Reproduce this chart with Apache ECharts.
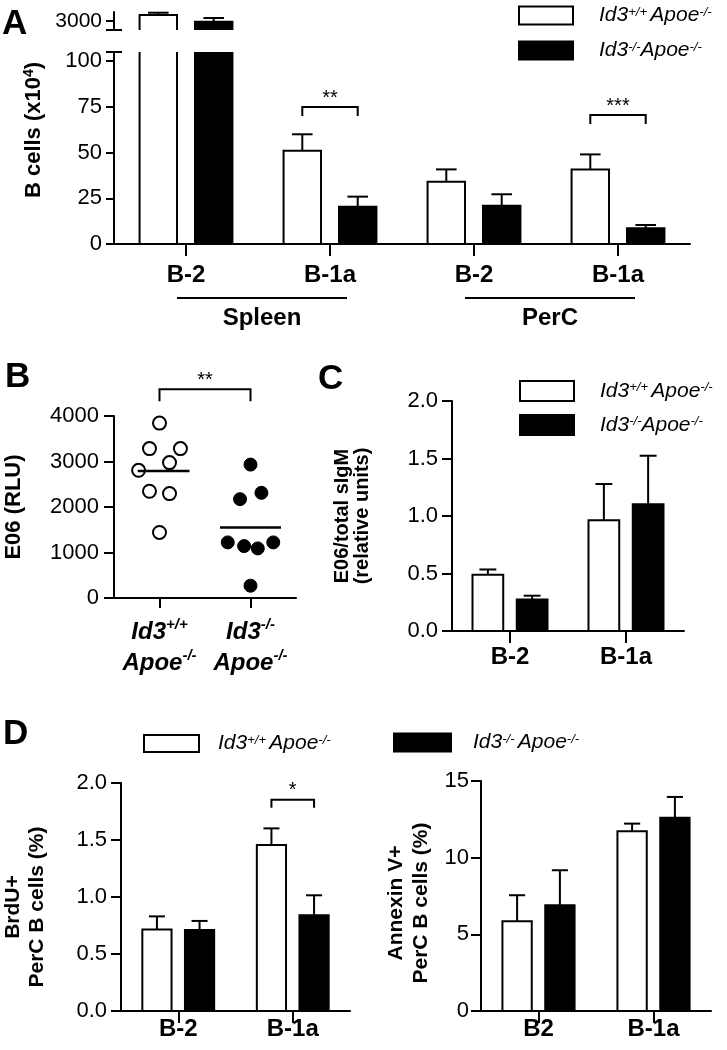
<!DOCTYPE html>
<html>
<head>
<meta charset="utf-8">
<title>Id3 Apoe B cells</title>
<script src="https://cdn.jsdelivr.net/npm/echarts@6/dist/echarts.min.js"></script>
<style>
  html, body { margin: 0; padding: 0; background: #fff; }
  #chart { width: 727px; height: 1050px; }
</style>
</head>
<body>
<div id="chart"></div>
<script>
// A: B cell numbers (x10^4), broken axis
const aCategories = ['B-2', 'B-1a', 'B-2', 'B-1a'];
const aGroups = ['Spleen', 'PerC'];
const aWt = [3067, 51, 34.1, 40.8];
const aWtSem = [25, 9, 6.7, 8.2];
const aKo = [2992, 20.4, 20.9, 8.6];
const aKoSem = [41, 5.5, 6.3, 1.8];
const aSig = [[1, 74.9], [3, 70.5]];
const aStars = ['**', '***'];

// B: E06 (RLU) per mouse
const bLabels = ['{b|Id3}{bs|+/+}\n{b|Apoe}{bs|-/-}', '{b|Id3}{bs|-/-}\n{b|Apoe}{bs|-/-}'];
const bWtX = [0.5, 0.39, 0.73, 0.61, 0.27, 0.39, 0.61, 0.5];
const bWtY = [3844, 3283, 3283, 2976, 2807, 2346, 2295, 1440];
const bKoX = [1.5, 1.62, 1.385, 1.25, 1.43, 1.58, 1.75, 1.5];
const bKoY = [2932, 2311, 2172, 1222, 1141, 1090, 1222, 270];
const bMeans = [2790, 1550];
const bMeanSpan = [[0.26, 0.83], [1.165, 1.835]];
const bSig = [[0.5, 1.5, 4590]];

// C: E06 / total sIgM
const cCategories = ['B-2', 'B-1a'];
const cWt = [0.49, 0.962];
const cWtSem = [0.045, 0.316];
const cKo = [0.275, 1.102];
const cKoSem = [0.032, 0.422];

// D: BrdU+ and Annexin V+ PerC B cells (%)
const dCategories = ['B-2', 'B-1a'];
const dWt = [0.716, 1.457];
const dWtSem = [0.114, 0.145];
const dKo = [0.71, 0.84];
const dKoSem = [0.08, 0.175];
const dSig = [[1, 1.853]];
const dStars = ['*'];
const eCategories = ['B2', 'B-1a'];
const eWt = [5.85, 11.72];
const eWtSem = [1.7, 0.5];
const eKo = [6.9, 12.61];
const eKoSem = [2.28, 1.35];

const FONT = '"Liberation Sans", Arial, Helvetica, sans-serif';
const WT = 'Id3+/+ Apoe-/-';
const KO = 'Id3-/- Apoe-/-';

const layA = { frac: 0.26, gap: 0.48 };
const layC = { frac: 0.265, gap: 0.44 };
const layD = { frac: 0.255, gap: 0.46 };

function barOffset(api, lay, side) {
  const w = api.size([1, 0])[0] * lay.frac;
  return { w, off: side * w * (1 + lay.gap) / 2 };
}

// bar drawn open on the side where it runs past the axis segment
function barItem(lay, side, fill) {
  return function (params, api) {
    const { w, off } = barOffset(api, lay, side);
    const i = api.value(0);
    const cx = api.coord([i, 0])[0] + off;
    const top = api.coord([i, api.value(1)])[1];
    const base = api.coord([i, 0])[1];
    const cs = params.coordSys;
    const y0 = Math.max(top, cs.y);
    const y1 = Math.min(base, cs.y + cs.height);
    if (y1 - y0 < 1) return null;
    const x0 = cx - w / 2, x1 = cx + w / 2;
    const openTop = top < cs.y - 1;
    const openBottom = base > cs.y + cs.height + 1;
    const edge = { stroke: '#000', lineWidth: 2, fill: null };
    let outline;
    if (!openTop && !openBottom) {
      outline = { type: 'rect', shape: { x: x0, y: y0, width: w, height: y1 - y0 }, style: edge };
    } else if (!openTop) {
      outline = { type: 'polyline', shape: { points: [[x0, y1], [x0, y0], [x1, y0], [x1, y1]] }, style: edge };
    } else if (!openBottom) {
      outline = { type: 'polyline', shape: { points: [[x0, y0], [x0, y1], [x1, y1], [x1, y0]] }, style: edge };
    } else {
      outline = { type: 'group', children: [
        { type: 'line', shape: { x1: x0, y1: y0, x2: x0, y2: y1 }, style: edge },
        { type: 'line', shape: { x1: x1, y1: y0, x2: x1, y2: y1 }, style: edge }
      ] };
    }
    return { type: 'group', children: [
      { type: 'rect', shape: { x: x0, y: y0, width: w, height: y1 - y0 }, style: { fill } },
      outline
    ] };
  };
}

function errItem(lay, side) {
  return function (params, api) {
    const { w, off } = barOffset(api, lay, side);
    const i = api.value(0);
    const cx = api.coord([i, 0])[0] + off;
    const yBar = api.coord([i, api.value(1)])[1];
    const yErr = api.coord([i, api.value(1) + api.value(2)])[1];
    const cs = params.coordSys;
    if (yErr < cs.y - 6 || yBar > cs.y + cs.height) return null;
    const cap = w * 0.55;
    const st = { stroke: '#000', lineWidth: 2 };
    return { type: 'group', children: [
      { type: 'line', shape: { x1: cx, y1: yBar, x2: cx, y2: yErr }, style: st },
      { type: 'line', shape: { x1: cx - cap / 2, y1: yErr, x2: cx + cap / 2, y2: yErr }, style: st }
    ] };
  };
}

function starText(x, y, text) {
  return { type: 'text', x, y, style: { text, fontSize: 20, fontFamily: FONT, fill: '#000', align: 'center', verticalAlign: 'middle' } };
}

function bracketItem(lay, stars, drop) {
  return function (params, api) {
    const { off } = barOffset(api, lay, 1);
    const p = api.coord([api.value(0), api.value(1)]);
    const xa = p[0] - off, xb = p[0] + off, y = p[1];
    return { type: 'group', children: [
      { type: 'polyline', shape: { points: [[xa, y + drop], [xa, y], [xb, y], [xb, y + drop]] }, style: { stroke: '#000', lineWidth: 2, fill: null } },
      starText(p[0], y - 9, stars[params.dataIndex])
    ] };
  };
}

function barSeries(name, x, y, lay, side, fill, vals, sems) {
  const data = vals.map((v, i) => [i, v, sems[i]]);
  return [
    { type: 'custom', name, xAxisIndex: x, yAxisIndex: y, renderItem: barItem(lay, side, fill),
      itemStyle: { color: fill }, encode: { x: 0, y: 1 }, data },
    { type: 'custom', name: name + ' sem', xAxisIndex: x, yAxisIndex: y, renderItem: errItem(lay, side),
      encode: { x: 0, y: 1 }, data, z: 3 }
  ];
}

const black = '#000';
const axisLine = { show: true, onZero: false, lineStyle: { color: black, width: 2 } };
const tickStyle = { color: black, width: 2 };
const plain = v => String(v);

function catAxis(grid, data, margin, show) {
  return {
    type: 'category', gridIndex: grid, data, show: show !== false,
    axisLine,
    axisTick: { show: true, alignWithLabel: true, length: 12, lineStyle: tickStyle },
    axisLabel: { margin, fontSize: 24, fontWeight: 'bold', color: black, interval: 0, fontFamily: FONT },
    splitLine: { show: false }
  };
}

function valAxis(grid, min, max, interval, extra) {
  return Object.assign({
    type: 'value', gridIndex: grid, min, max, interval, position: 'left',
    axisLine,
    axisTick: { show: true, length: 10, lineStyle: tickStyle },
    axisLabel: { fontSize: 22, color: black, margin: 13, fontFamily: FONT, formatter: plain },
    splitLine: { show: false },
    nameLocation: 'middle', nameRotate: 90
  }, extra);
}

function capAxis(grid, min, max, at) {
  return {
    type: 'value', gridIndex: grid, min, max, position: 'left',
    axisLine: { show: false },
    axisTick: { show: true, inside: true, length: 8, customValues: [at], lineStyle: tickStyle },
    axisLabel: { show: false }, splitLine: { show: false }
  };
}

const titleFont = { fontSize: 22, fontWeight: 'bold', color: black, fontFamily: FONT };
const legRich = {
  i: { fontSize: 21, fontStyle: 'italic', lineHeight: 20, fontFamily: FONT, color: black },
  s: { fontSize: 13, fontStyle: 'italic', lineHeight: 12, verticalAlign: 'top', fontFamily: FONT, color: black }
};
const legLabelTight = { [WT]: '{i|Id3}{s|+/+} {i|Apoe}{s|-/-}', [KO]: '{i|Id3}{s|-/-}{i|Apoe}{s|-/-}' };
const legLabelSpaced = { [WT]: '{i|Id3}{s|+/+} {i|Apoe}{s|-/-}', [KO]: '{i|Id3}{s|-/-} {i|Apoe}{s|-/-}' };

function legend(names, left, top, w, h, gap, pad, labels) {
  return {
    data: names, left, top, orient: 'vertical', itemWidth: w, itemHeight: h, itemGap: gap,
    padding: 0, icon: 'rect', selectedMode: false,
    itemStyle: { borderColor: black, borderWidth: 2 },
    formatter: n => labels[n],
    textStyle: { padding: [0, 0, 0, pad], rich: legRich }
  };
}

const option = {
  animation: false,
  backgroundColor: '#fff',
  textStyle: { fontFamily: FONT, color: black },
  title: [
    { text: 'A', left: 2, top: 7 },
    { text: 'B', left: 5, top: 360 },
    { text: 'C', left: 318, top: 362 },
    { text: 'D', left: 3, top: 717 }
  ].map(t => Object.assign(t, { padding: 0, textStyle: { fontSize: 35, fontWeight: 'bold', color: black, fontFamily: FONT } })),
  legend: [
    legend([WT, KO], 518, 5, 54, 18, 14, 21, legLabelTight),
    legend([WT, KO], 519, 380, 54, 20, 12, 21, legLabelTight),
    legend([WT], 143, 733, 55, 17, 0, 14, legLabelSpaced),
    legend([KO], 393, 732, 57, 18, 0, 17, legLabelSpaced)
  ],
  grid: [
    { left: 114, top: 12, width: 576, height: 18 },
    { left: 114, top: 52, width: 576, height: 192 },
    { left: 114, top: 416, width: 182, height: 182 },
    { left: 452, top: 401, width: 232, height: 230 },
    { left: 121, top: 783, width: 229, height: 228 },
    { left: 481, top: 781, width: 230, height: 230 }
  ].map(g => Object.assign(g, { outerBoundsMode: 'none' })),
  xAxis: [
    catAxis(0, aCategories, 17, false),
    catAxis(1, aCategories, 19),
    {
      type: 'value', gridIndex: 2, min: 0, max: 2,
      axisLine,
      axisTick: { show: true, length: 10, customValues: [0.5, 1.5], lineStyle: tickStyle },
      axisLabel: {
        margin: 19, customValues: [0.5, 1.5], color: black,
        formatter: v => bLabels[Math.round(v - 0.5)],
        rich: {
          b: { fontSize: 24, fontWeight: 'bold', fontStyle: 'italic', lineHeight: 31, fontFamily: FONT, color: black },
          bs: { fontSize: 15, fontWeight: 'bold', fontStyle: 'italic', lineHeight: 17, verticalAlign: 'top', fontFamily: FONT, color: black }
        }
      },
      splitLine: { show: false }
    },
    catAxis(3, cCategories, 14),
    catAxis(4, dCategories, 6),
    catAxis(5, eCategories, 6)
  ],
  yAxis: [
    valAxis(0, 2900, 3100, null, {
      axisTick: { show: true, length: 8, customValues: [2900, 3000], lineStyle: tickStyle },
      axisLabel: { fontSize: 21, color: black, margin: 12, customValues: [3000], fontFamily: FONT, formatter: plain }
    }),
    capAxis(0, 2900, 3100, 2900),
    valAxis(1, 0, 105, null, {
      axisTick: { show: true, length: 8, customValues: [0, 25, 50, 75, 100, 105], lineStyle: tickStyle },
      axisLabel: { fontSize: 22, color: black, margin: 12, customValues: [0, 25, 50, 75, 100], fontFamily: FONT, formatter: plain },
      name: '{t|B cells (x10}{ts|4}{t|)}', nameGap: 68,
      nameTextStyle: {
        padding: [0, 0, 0, 36],
        rich: {
          t: Object.assign({ lineHeight: 24 }, titleFont),
          ts: { fontSize: 14, fontWeight: 'bold', lineHeight: 14, verticalAlign: 'top', fontFamily: FONT, color: black }
        }
      }
    }),
    capAxis(1, 0, 105, 105),
    valAxis(2, 0, 4000, 1000, {
      axisLabel: { fontSize: 22, color: black, margin: 15, fontFamily: FONT, formatter: plain },
      name: 'E06 (RLU)', nameGap: 89, nameTextStyle: titleFont
    }),
    valAxis(3, 0, 2, 0.5, {
      axisLabel: { fontSize: 22, color: black, margin: 14, formatter: v => v.toFixed(1), fontFamily: FONT },
      name: 'E06/total sIgM\n(relative units)', nameGap: 80,
      nameTextStyle: Object.assign({}, titleFont, { fontSize: 20, lineHeight: 20 })
    }),
    valAxis(4, 0, 2, 0.5, {
      axisLabel: { fontSize: 22, color: black, margin: 14, formatter: v => v.toFixed(1), fontFamily: FONT },
      name: 'BrdU+\nPerC B cells (%)', nameGap: 72,
      nameTextStyle: Object.assign({}, titleFont, { fontSize: 21, lineHeight: 24, padding: [0, 20, 0, 0] })
    }),
    valAxis(5, 0, 15, 5, {
      axisLabel: { fontSize: 22, color: black, margin: 12, fontFamily: FONT, formatter: plain },
      name: 'Annexin V+\nPerC B cells (%)', nameGap: 47,
      nameTextStyle: Object.assign({}, titleFont, { fontSize: 21, lineHeight: 25, padding: [0, 14, 0, 0] })
    })
  ],
  series: [
    // A upper and lower segments share the same data
    ...barSeries(WT, 0, 0, layA, -1, '#fff', aWt, aWtSem),
    ...barSeries(KO, 0, 0, layA, 1, black, aKo, aKoSem),
    ...barSeries(WT, 1, 2, layA, -1, '#fff', aWt, aWtSem),
    ...barSeries(KO, 1, 2, layA, 1, black, aKo, aKoSem),
    { type: 'custom', name: 'A sig', xAxisIndex: 1, yAxisIndex: 2, renderItem: bracketItem(layA, aStars, 9),
      encode: { x: 0, y: 1 }, data: aSig, z: 4 },

    // B scatter
    { type: 'scatter', name: 'B wt', xAxisIndex: 2, yAxisIndex: 4, symbolSize: 13,
      itemStyle: { color: '#fff', borderColor: black, borderWidth: 2, opacity: 1 },
      data: bWtX.map((x, i) => [x, bWtY[i]]) },
    { type: 'scatter', name: 'B ko', xAxisIndex: 2, yAxisIndex: 4, symbolSize: 13,
      itemStyle: { color: black, borderColor: black, borderWidth: 1, opacity: 1 },
      data: bKoX.map((x, i) => [x, bKoY[i]]) },
    ...bMeans.map((m, k) => ({
      type: 'line', name: 'B mean ' + k, xAxisIndex: 2, yAxisIndex: 4, symbol: 'none', z: 5,
      lineStyle: { color: black, width: 2.5 },
      data: bMeanSpan[k].map(x => [x, m])
    })),
    { type: 'custom', name: 'B sig', xAxisIndex: 2, yAxisIndex: 4, encode: { x: 0, y: 2 }, data: bSig,
      renderItem: function (params, api) {
        const a = api.coord([api.value(0), api.value(2)]);
        const b = api.coord([api.value(1), api.value(2)]);
        return { type: 'group', children: [
          { type: 'polyline', shape: { points: [[a[0], a[1] + 12], a, b, [b[0], b[1] + 12]] }, style: { stroke: black, lineWidth: 2, fill: null } },
          starText((a[0] + b[0]) / 2, a[1] - 9, '**')
        ] };
      } },

    // C
    ...barSeries(WT, 3, 5, layC, -1, '#fff', cWt, cWtSem),
    ...barSeries(KO, 3, 5, layC, 1, black, cKo, cKoSem),

    // D
    ...barSeries(WT, 4, 6, layD, -1, '#fff', dWt, dWtSem),
    ...barSeries(KO, 4, 6, layD, 1, black, dKo, dKoSem),
    { type: 'custom', name: 'D sig', xAxisIndex: 4, yAxisIndex: 6, renderItem: bracketItem(layD, dStars, 8),
      encode: { x: 0, y: 1 }, data: dSig, z: 4 },
    ...barSeries(WT, 5, 7, layD, -1, '#fff', eWt, eWtSem),
    ...barSeries(KO, 5, 7, layD, 1, black, eKo, eKoSem)
  ]
};

const chart = echarts.init(document.getElementById('chart'));
chart.setOption(option);

// tissue labels under panel A, placed from the category axis
const px = i => chart.convertToPixel({ xAxisIndex: 1 }, i);
const groupMarks = [];
aGroups.forEach((g, k) => {
  const x1 = px(2 * k) - 9;
  const x2 = px(2 * k + 1) + 17;
  groupMarks.push(
    { type: 'line', shape: { x1, y1: 298, x2, y2: 298 }, style: { stroke: black, lineWidth: 2 } },
    { type: 'text', x: (x1 + x2) / 2, y: 318,
      style: { text: g, fontSize: 24, fontWeight: 'bold', fontFamily: FONT, fill: black, align: 'center', verticalAlign: 'middle' } }
  );
});
chart.setOption({ graphic: groupMarks });
</script>
</body>
</html>
